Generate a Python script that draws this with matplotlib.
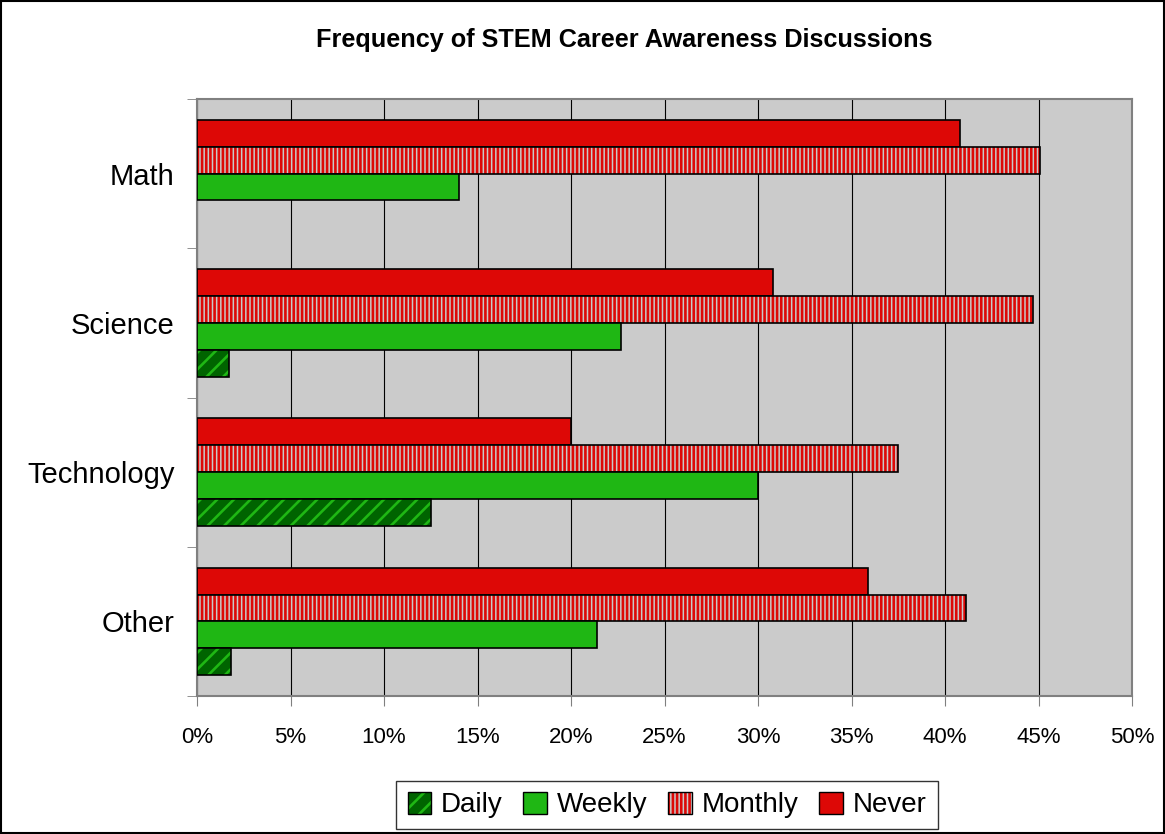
import matplotlib
matplotlib.use('Agg')
import matplotlib.pyplot as plt
import numpy as np

plt.rcParams['font.family'] = ['Liberation Sans', 'DejaVu Sans']
plt.rcParams['hatch.linewidth'] = 1.9

categories = ['Math', 'Science', 'Technology', 'Other']
daily = [0.0, 1.7, 12.5, 1.8]
weekly = [14.0, 22.7, 30.0, 21.4]
monthly = [45.1, 44.7, 37.5, 41.1]
never = [40.8, 30.8, 20.0, 35.9]
ticks = [0, 5, 10, 15, 20, 25, 30, 35, 40, 45, 50]

red = '#DD0806'
green = '#1FB714'
dark_green = '#006400'
bg = '#CBCBCB'

fig = plt.figure(figsize=(11.65, 8.34), dpi=100)
ax = fig.add_axes([197 / 1165, 1 - 696 / 834, (1132 - 197) / 1165, (696 - 99) / 834])
ax.set_facecolor(bg)

pos = np.arange(len(categories))[::-1]
h = 0.18


def set_hatch(bars, color):
    for r in bars:
        r._hatch_color = matplotlib.colors.to_rgba(color)
        if r.get_width() == 0:
            r.set_visible(False)


b = ax.barh(pos + 1.5 * h, never, height=h, color=red, edgecolor='black', linewidth=1.2, zorder=3)
b = ax.barh(pos + 0.5 * h, monthly, height=h, color='#C8C8C8', edgecolor='black', linewidth=1.2,
            hatch='||||', zorder=3)
set_hatch(b, red)
b = ax.barh(pos - 0.5 * h, weekly, height=h, color=green, edgecolor='black', linewidth=1.2, zorder=3)
b = ax.barh(pos - 1.5 * h, daily, height=h, color=dark_green, edgecolor='black', linewidth=1.2,
            hatch='//', zorder=3)
set_hatch(b, green)

ax.set_xlim(0, 50)
ax.set_ylim(-0.5, 3.5)
ax.set_xticks(ticks)
ax.set_xticklabels(['{}%'.format(t) for t in ticks], fontsize=16)
ax.xaxis.grid(True, color='black', linewidth=0.8, zorder=1)
ax.set_axisbelow(True)
ax.tick_params(axis='x', length=7, color='#808080', pad=15)

ax.set_yticks(pos)
ax.set_yticklabels(categories, fontsize=21)
ax.set_yticks(np.arange(-0.5, 4, 1.0), minor=True)
ax.tick_params(axis='y', which='major', length=0, pad=16)
ax.tick_params(axis='y', which='minor', length=7, color='#808080')

for s in ['left', 'bottom', 'top', 'right']:
    ax.spines[s].set_color('#808080')
    ax.spines[s].set_linewidth(1.5)

fig.text(0.536, 1 - 40 / 834, 'Frequency of STEM Career Awareness Discussions',
         ha='center', va='center', fontsize=18.2, fontweight='bold')

handles = [
    matplotlib.patches.Patch(facecolor=dark_green, edgecolor='black', hatch='//', label='Daily'),
    matplotlib.patches.Patch(facecolor=green, edgecolor='black', label='Weekly'),
    matplotlib.patches.Patch(facecolor='#C8C8C8', edgecolor='black', hatch='||||', label='Monthly'),
    matplotlib.patches.Patch(facecolor=red, edgecolor='black', label='Never'),
]
handles[0]._hatch_color = matplotlib.colors.to_rgba(green)
handles[2]._hatch_color = matplotlib.colors.to_rgba(red)
leg = fig.legend(handles=handles, loc='center', bbox_to_anchor=(667 / 1165, 1 - 805 / 834), ncol=4,
                 fontsize=20, frameon=True, fancybox=False, edgecolor='black',
                 handlelength=0.85, handleheight=0.85, handletextpad=0.35, columnspacing=0.75,
                 borderpad=0.4)
leg.get_frame().set_linewidth(1.0)

fig.patches.append(matplotlib.patches.Rectangle((0.001, 0.001), 0.998, 0.998, transform=fig.transFigure,
                                                fill=False, edgecolor='black', linewidth=1.5))

fig.savefig('out.png', dpi=100)
